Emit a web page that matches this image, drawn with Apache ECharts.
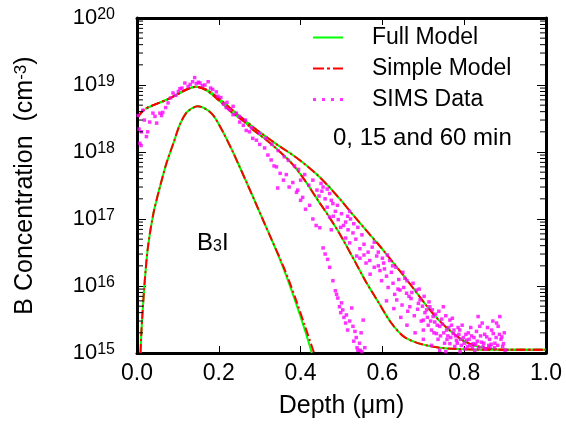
<!DOCTYPE html>
<html><head><meta charset="utf-8">
<script src="https://cdn.jsdelivr.net/npm/echarts@6/dist/echarts.min.js"></script>
<style>html,body{margin:0;padding:0;background:#fff}#c{width:566px;height:425px}</style>
</head><body><div id="c"></div>
<script>
// ---------- data (depth in µm, concentration in cm^-3) ----------
const xTicks = [0, 0.2, 0.4, 0.6, 0.8, 1.0];
const yDecades = [1e15, 1e16, 1e17, 1e18, 1e19, 1e20];

// B3I / as-implanted model curves
const lowFullX = [0.0086,0.011,0.0135,0.019,0.027,0.040,0.056,0.072,0.089,0.104,0.12,0.135,0.148,0.165,0.186,0.21,0.2345,0.247,0.27,0.29,0.31,0.33,0.35,0.37,0.39,0.41,0.4275];
const lowFullY = [1.0e15,2.2e15,3.9e15,1.2e16,3.9e16,1.2e17,3.0e17,6.8e17,1.35e18,2.5e18,3.8e18,4.5e18,4.8e18,4.5e18,3.55e18,2.0e18,1.0e18,6.8e17,3.3e17,1.74e17,9.1e16,4.8e16,2.45e16,1.17e16,5.25e15,2.24e15,1.0e15];
const lowSimpleX = [0.0086,0.011,0.0135,0.019,0.027,0.040,0.056,0.072,0.089,0.104,0.12,0.135,0.148,0.165,0.186,0.21,0.2345,0.247,0.27,0.29,0.31,0.33,0.35,0.37,0.39,0.41,0.433];
const lowSimpleY = [1.0e15,2.2e15,3.9e15,1.2e16,3.9e16,1.2e17,3.0e17,6.8e17,1.35e18,2.5e18,3.8e18,4.5e18,4.8e18,4.5e18,3.55e18,2.0e18,1.0e18,6.8e17,3.3e17,1.74e17,9.1e16,4.8e16,2.55e16,1.28e16,5.9e15,2.6e15,1.0e15];

// 60 min model curves
const longFullX = [0.02,0.04,0.08,0.12,0.145,0.17,0.20,0.23,0.26,0.29,0.32,0.35,0.38,0.41,0.44,0.47,0.50,0.53,0.56,0.59,0.62,0.65,0.68,0.71,0.74,0.77,0.80,0.83,0.86,0.90,1.0];
const longFullY = [4.4e18,5.0e18,6.3e18,8.5e18,9.4e18,8.5e18,6.3e18,4.4e18,3.1e18,2.2e18,1.62e18,1.2e18,9.1e17,6.6e17,4.6e17,3.0e17,1.86e17,1.12e17,6.8e16,4.2e16,2.5e16,1.48e16,8.5e15,4.9e15,3.0e15,2.05e15,1.5e15,1.26e15,1.17e15,1.12e15,1.12e15];
const longSimpleX = [0.003,0.02,0.04,0.08,0.12,0.145,0.17,0.20,0.23,0.26,0.29,0.32,0.35,0.38,0.41,0.44,0.47,0.50,0.53,0.56,0.59,0.62,0.65,0.68,0.71,0.74,0.77,0.80,0.83,0.86,0.90,1.0];
const longSimpleY = [3.4e18,4.4e18,5.0e18,6.3e18,8.5e18,9.4e18,8.5e18,6.3e18,4.4e18,3.1e18,2.2e18,1.62e18,1.2e18,9.1e17,6.6e17,4.6e17,3.0e17,1.86e17,1.12e17,6.8e16,4.2e16,2.5e16,1.48e16,8.5e15,4.9e15,3.0e15,2.05e15,1.5e15,1.28e15,1.17e15,1.12e15,1.12e15];

// 15 min model curves
const midFullX = [0.02,0.04,0.08,0.12,0.145,0.17,0.20,0.23,0.26,0.29,0.32,0.35,0.38,0.41,0.44,0.47,0.50,0.53,0.56,0.59,0.62,0.65,0.68,0.71,0.74,0.78,0.85,1.0];
const midFullY = [4.4e18,5.0e18,6.3e18,8.5e18,9.4e18,8.3e18,5.9e18,4.0e18,2.9e18,2.0e18,1.45e18,1.0e18,6.6e17,3.8e17,2.0e17,1.07e17,5.4e16,2.5e16,1.15e16,5.75e15,2.9e15,1.8e15,1.45e15,1.29e15,1.2e15,1.15e15,1.12e15,1.12e15];
const midSimpleX = [0.003,0.02,0.04,0.08,0.12,0.145,0.17,0.20,0.23,0.26,0.29,0.32,0.35,0.38,0.41,0.44,0.47,0.50,0.53,0.56,0.59,0.62,0.65,0.68,0.71,0.74,0.78,0.85,1.0];
const midSimpleY = [3.4e18,4.4e18,5.0e18,6.3e18,8.5e18,9.4e18,8.3e18,5.9e18,4.0e18,2.9e18,2.0e18,1.45e18,1.0e18,6.6e17,3.8e17,2.0e17,1.07e17,5.4e16,2.5e16,1.15e16,5.75e15,2.9e15,1.8e15,1.45e15,1.29e15,1.2e15,1.15e15,1.12e15,1.12e15];

// SIMS data [depth, concentration]
const simsSurface = [[0.003,3.5e18],[0.005,2.2e18],[0.007,1.35e18],[0.01,1.25e18],[0.011,2.0e18],[0.014,4.2e18],[0.018,3.0e18],[0.023,1.7e18],[0.026,2.0e18],[0.031,2.8e18],[0.039,3.8e18],[0.044,3.4e18],[0.048,2.7e18],[0.056,3.8e18],[0.06,3.5e18],[0.063,3.9e18],[0.07,4.6e18],[0.076,5.4e18],[0.082,6.4e18],[0.088,7.6e18],[0.095,7.0e18],[0.101,8.0e18],[0.105,8.8e18],[0.11,9.0e18],[0.117,1.07e19],[0.125,9.5e18],[0.13,1.02e19],[0.136,1.12e19],[0.141,1.29e19],[0.145,1.05e19],[0.15,1.1e19],[0.154,1.07e19],[0.16,9.8e18],[0.166,1.0e19],[0.174,1.12e19],[0.18,9.0e18],[0.185,8.6e18],[0.194,7.9e18],[0.198,6.8e18],[0.205,6.5e18],[0.212,5.2e18]];
const sims0min = [[0.218,4.6e18],[0.226,4.3e18],[0.235,3.6e18],[0.243,3.8e18],[0.251,2.8e18],[0.26,2.5e18],[0.267,2.1e18],[0.275,2.0e18],[0.283,1.6e18],[0.292,1.5e18],[0.3,1.3e18],[0.312,1.15e18],[0.32,9.0e17],[0.328,7.6e17],[0.335,6.2e17],[0.341,6.0e17],[0.344,2.9e17],[0.35,4.8e17],[0.358,3.8e17],[0.365,4.6e17],[0.372,3.0e17],[0.381,3.5e17],[0.39,2.5e17],[0.393,2.7e17],[0.4,1.9e17],[0.405,2.1e17],[0.412,1.4e17],[0.422,1.6e17],[0.43,1.0e17],[0.438,8.0e16],[0.447,7.4e16],[0.455,3.7e16],[0.46,3.0e16],[0.466,2.5e16],[0.471,1.9e16],[0.479,1.2e16],[0.485,8.5e15],[0.491,6.6e15],[0.495,4.9e15],[0.498,4.0e15],[0.503,4.4e15],[0.506,3.4e15],[0.512,3.7e15],[0.515,2.2e15],[0.52,3.0e15],[0.525,4.7e15],[0.528,2.5e15],[0.53,1.5e15],[0.536,1.7e15],[0.538,1.2e15],[0.54,1.1e15],[0.544,1.4e15],[0.548,2.0e15],[0.55,1.05e15],[0.553,3.1e15],[0.557,1.2e15],[0.533,2.1e15],[0.546,1.1e15],[0.51,2.8e15],[0.5,5.6e15],[0.488,7.5e15]];
const simsAnnealed = [[0.22,5.5e18],[0.235,4.8e18],[0.25,3.4e18],[0.265,3.0e18],[0.28,2.3e18],[0.3,1.9e18],[0.315,1.6e18],[0.33,1.3e18],[0.345,1.05e18],[0.36,8.5e17],[0.37,7.5e17],[0.385,6.2e17],[0.395,5.5e17],[0.4,3.8e17],[0.41,4.6e17],[0.42,3.2e17],[0.43,3.8e17],[0.44,2.7e17],[0.445,2.2e17],[0.45,3.4e17],[0.452,2.6e17],[0.455,3.0e17],[0.46,2.0e17],[0.471,2.4e17],[0.475,1.9e17],[0.479,1.7e17],[0.471,1.07e17],[0.485,1.3e17],[0.492,9.8e16],[0.475,6.9e16],[0.5,1.2e17],[0.505,8.0e16],[0.51,9.0e16],[0.516,6.9e16],[0.52,1.3e17],[0.522,1.0e17],[0.528,6.2e16],[0.535,5.0e16],[0.537,2.8e16],[0.545,3.6e16],[0.55,5.8e16],[0.555,4.2e16],[0.56,2.2e16],[0.565,3.2e16],[0.569,2.4e16],[0.575,3.8e16],[0.58,1.9e16],[0.586,2.8e16],[0.59,2.0e16],[0.594,1.7e16],[0.598,1.2e16],[0.603,2.2e16],[0.61,1.4e16],[0.614,9.5e15],[0.618,2.4e16],[0.622,1.6e16],[0.626,1.1e16],[0.63,7.5e15],[0.635,6.2e15],[0.64,1.25e16],[0.643,8.7e15],[0.648,5.2e15],[0.652,9.5e15],[0.659,7.8e15],[0.662,4.2e15],[0.667,4.9e15],[0.67,6.5e15],[0.675,1.1e16],[0.678,3.6e15],[0.683,8.7e15],[0.688,5.5e15],[0.692,6.2e15],[0.695,3.0e15],[0.70,3.1e15],[0.704,4.0e15],[0.708,4.4e15],[0.712,2.6e15],[0.716,4.9e15],[0.72,2.2e15],[0.724,3.5e15],[0.728,2.9e15],[0.732,1.95e15],[0.736,1.6e15],[0.74,2.5e15],[0.745,3.2e15],[0.749,4.9e15],[0.752,1.4e15],[0.757,2.2e15],[0.76,1.8e15],[0.765,3.1e15],[0.765,1.38e15],[0.769,2.6e15],[0.773,1.95e15],[0.777,1.25e15],[0.781,1.55e15],[0.785,2.4e15],[0.789,2.2e15],[0.793,1.3e15],[0.798,1.7e15],[0.802,1.15e15],[0.806,1.55e15],[0.81,2.0e15],[0.814,1.3e15],[0.818,1.8e15],[0.822,1.38e15],[0.826,1.1e15],[0.83,2.1e15],[0.834,3.5e15],[0.838,2.5e15],[0.842,1.45e15],[0.846,1.25e15],[0.85,1.9e15],[0.855,1.74e15],[0.86,1.3e15],[0.863,1.23e15],[0.867,2.2e15],[0.871,1.95e15],[0.875,1.4e15],[0.879,2.8e15],[0.883,2.5e15],[0.887,3.5e15],[0.89,1.6e15],[0.892,1.74e15],[0.896,1.38e15],[0.9,1.1e15],[0.74,1.1e15],[0.72,1.3e15],[0.7,1.6e15],[0.68,2.0e15],[0.66,2.6e15],[0.645,3.4e15],[0.628,4.6e15],[0.61,6.0e15],[0.755,1.05e15],[0.79,1.05e15],[0.7,2.2e15],[0.605,1.8e16],[0.612,2.9e16],[0.633,1.9e16],[0.638,9.0e15],[0.655,1.3e16],[0.665,7.0e15],[0.672,8.0e15],[0.686,4.5e15],[0.69,9.0e15],[0.698,5.0e15],[0.702,7.0e15],[0.71,3.4e15],[0.714,5.8e15],[0.718,3.0e15],[0.722,4.4e15],[0.726,2.0e15],[0.73,3.8e15],[0.734,2.6e15],[0.738,4.2e15],[0.742,1.8e15],[0.747,2.7e15],[0.75,2.0e15],[0.755,3.6e15],[0.758,1.6e15],[0.762,2.4e15],[0.767,1.7e15],[0.771,3.3e15],[0.775,2.2e15],[0.779,1.8e15],[0.783,1.4e15],[0.787,1.9e15],[0.791,1.6e15],[0.795,2.6e15],[0.8,1.4e15],[0.804,1.9e15],[0.808,1.25e15],[0.812,1.6e15],[0.816,2.4e15],[0.82,1.2e15],[0.824,1.7e15],[0.828,1.35e15],[0.832,1.5e15],[0.836,1.2e15],[0.84,1.8e15],[0.844,2.8e15],[0.848,1.4e15],[0.852,1.15e15],[0.857,2.4e15],[0.862,1.6e15],[0.866,1.35e15],[0.87,3.0e15],[0.874,1.2e15],[0.878,1.7e15],[0.882,1.3e15],[0.886,1.9e15],[0.894,1.25e15],[0.898,2.0e15],[0.58,4.5e16],[0.57,1.5e16],[0.59,3.2e16],[0.6,2.6e16],[0.625,2.0e16],[0.65,1.6e16],[0.66,1.2e16],[0.54,7.5e16],[0.53,8.5e16],[0.515,1.1e17],[0.49,1.6e17],[0.465,2.8e17],[0.465,1.5e17],[0.48,1.1e17],[0.498,7.5e16],[0.51,5.2e16],[0.52,4.4e16],[0.545,2.6e16],[0.555,2.9e16]];

// minor tick positions of the log axis (2..9 x each decade)
const minorMultipliers = [2,3,4,5,6,7,8,9];

// ---------- chart ----------
const F = 'Liberation Sans, Arial, Helvetica, sans-serif';
const GREEN = '#00ff00', RED = '#ff0000', MAGENTA = '#ff00ff';
const zip = (xs, ys) => xs.map((x, i) => [x, ys[i]]);
const minorTicks = [];
yDecades.slice(0, -1).forEach(d => minorMultipliers.forEach(m => minorTicks.push([0, d * m])));

function fullLine(xs, ys) {
  return {name: 'Full Model', type: 'line', symbol: 'none', smooth: 0.3, data: zip(xs, ys),
    lineStyle: {color: GREEN, width: 2}, itemStyle: {color: GREEN}, z: 3};
}
function simpleLine(xs, ys) {
  return {name: 'Simple Model', type: 'line', symbol: 'none', smooth: 0.3, data: zip(xs, ys),
    lineStyle: {color: RED, width: 2, type: [9, 3, 2, 3]}, itemStyle: {color: RED}, z: 4};
}
function sims(d) {
  return {name: 'SIMS Data', type: 'scatter', symbol: 'rect', symbolSize: 3.5, data: d,
    itemStyle: {color: MAGENTA}, z: 5};
}

const chart = echarts.init(document.getElementById('c'), null, {renderer: 'canvas'});
chart.setOption({
  animation: false,
  backgroundColor: '#fff',
  textStyle: {fontFamily: F},
  grid: {left: 137, right: 20, top: 18, bottom: 72},
  legend: {
    orient: 'vertical', left: 313, top: 26, padding: 0, itemWidth: 30, itemHeight: 14, itemGap: 8,
    selectedMode: false,
    textStyle: {fontSize: 23, fontFamily: F, color: '#000', lineHeight: 23, padding: [0, 0, 0, 24]},
    data: [
      {name: 'Full Model', icon: 'path://M0,0h30v2h-30z', itemStyle: {color: GREEN}},
      {name: 'Simple Model', icon: 'path://M0,0h11v2h-11zM14,0h3v2h-3zM20,0h10v2h-10z', itemStyle: {color: RED}},
      {name: 'SIMS Data', icon: 'path://M0,0h3v3h-3zM9,0h3v3h-3zM18,0h3v3h-3zM27,0h3v3h-3z', itemStyle: {color: MAGENTA}}
    ]
  },
  xAxis: [{
    type: 'value', min: 0, max: 1, interval: 0.2, position: 'bottom',
    name: 'Depth (\u03bcm)', nameLocation: 'middle', nameGap: 41,
    nameTextStyle: {fontSize: 25, fontFamily: F, color: '#000'},
    axisLine: {show: true, onZero: false, lineStyle: {color: '#000', width: 3}},
    axisTick: {show: true, inside: true, length: 7, lineStyle: {color: '#000', width: 1}},
    axisLabel: {fontSize: 23, fontFamily: F, color: '#000', margin: 9, formatter: v => v.toFixed(1)},
    splitLine: {show: false}
  }, {
    type: 'value', min: 0, max: 1, interval: 0.2, position: 'top',
    axisLine: {show: true, onZero: false, lineStyle: {color: '#000', width: 3}},
    axisTick: {show: true, inside: true, length: 7, lineStyle: {color: '#000', width: 1}},
    axisLabel: {show: false}, splitLine: {show: false}
  }],
  yAxis: [{
    type: 'log', logBase: 10, min: 1e15, max: 1e20, position: 'left',
    name: '{n|B Concentration  (cm}{s|-3}{n|)}', nameLocation: 'middle', nameGap: 99,
    nameTextStyle: {fontFamily: F, color: '#000', rich: {
      n: {fontSize: 25, fontFamily: F, color: '#000', lineHeight: 25, verticalAlign: 'bottom'},
      s: {fontSize: 17, fontFamily: F, color: '#000', lineHeight: 17, padding: [0, 0, 9, 0], verticalAlign: 'top'}
    }},
    axisLine: {show: true, onZero: false, lineStyle: {color: '#000', width: 3}},
    axisTick: {show: true, inside: true, length: 9, lineStyle: {color: '#000', width: 1}},
    axisLabel: {margin: 22, color: '#000', fontFamily: F,
      formatter: v => '{b|10}{s|' + Math.round(Math.log10(v)) + '}',
      rich: {
        b: {fontSize: 22, fontFamily: F, color: '#000', lineHeight: 22, verticalAlign: 'bottom'},
        s: {fontSize: 16, fontFamily: F, color: '#000', lineHeight: 16, padding: [0, 0, 9, 0], verticalAlign: 'top'}
      }},
    splitLine: {show: false}
  }, {
    type: 'log', logBase: 10, min: 1e15, max: 1e20, position: 'right',
    axisLine: {show: true, onZero: false, lineStyle: {color: '#000', width: 3}},
    axisTick: {show: true, inside: true, length: 9, lineStyle: {color: '#000', width: 1}},
    axisLabel: {show: false}, splitLine: {show: false}
  }],
  graphic: [
    {type: 'text', left: 333, top: 126, style: {text: '0, 15 and 60 min', font: '24px ' + F, fill: '#000'}},
    {type: 'text', left: 197, top: 227, style: {text: '{b|B}{s|3}{b|I}', fill: '#000', rich: {
      b: {fontSize: 24, fontFamily: F, fill: '#000', lineHeight: 24, verticalAlign: 'top'},
      s: {fontSize: 16, fontFamily: F, fill: '#000', lineHeight: 16, padding: [12, 0, 0, 0], verticalAlign: 'bottom'}
    }}}
  ],
  series: [
    fullLine(lowFullX, lowFullY),
    fullLine(midFullX, midFullY),
    fullLine(longFullX, longFullY),
    simpleLine(lowSimpleX, lowSimpleY),
    simpleLine(midSimpleX, midSimpleY),
    simpleLine(longSimpleX, longSimpleY),
    sims(simsSurface),
    sims(sims0min),
    sims(simsAnnealed),
    {
      type: 'custom', silent: true, z: 6, clip: false, data: minorTicks,
      renderItem: function (params, api) {
        const p = api.coord([0, api.value(1)]);
        const cs = params.coordSys;
        return {type: 'group', children: [
          {type: 'line', shape: {x1: cs.x, y1: p[1], x2: cs.x + 6, y2: p[1]}, style: {stroke: '#000', lineWidth: 1}},
          {type: 'line', shape: {x1: cs.x + cs.width - 6, y1: p[1], x2: cs.x + cs.width, y2: p[1]}, style: {stroke: '#000', lineWidth: 1}}
        ]};
      }
    }
  ]
});
</script></body></html>
